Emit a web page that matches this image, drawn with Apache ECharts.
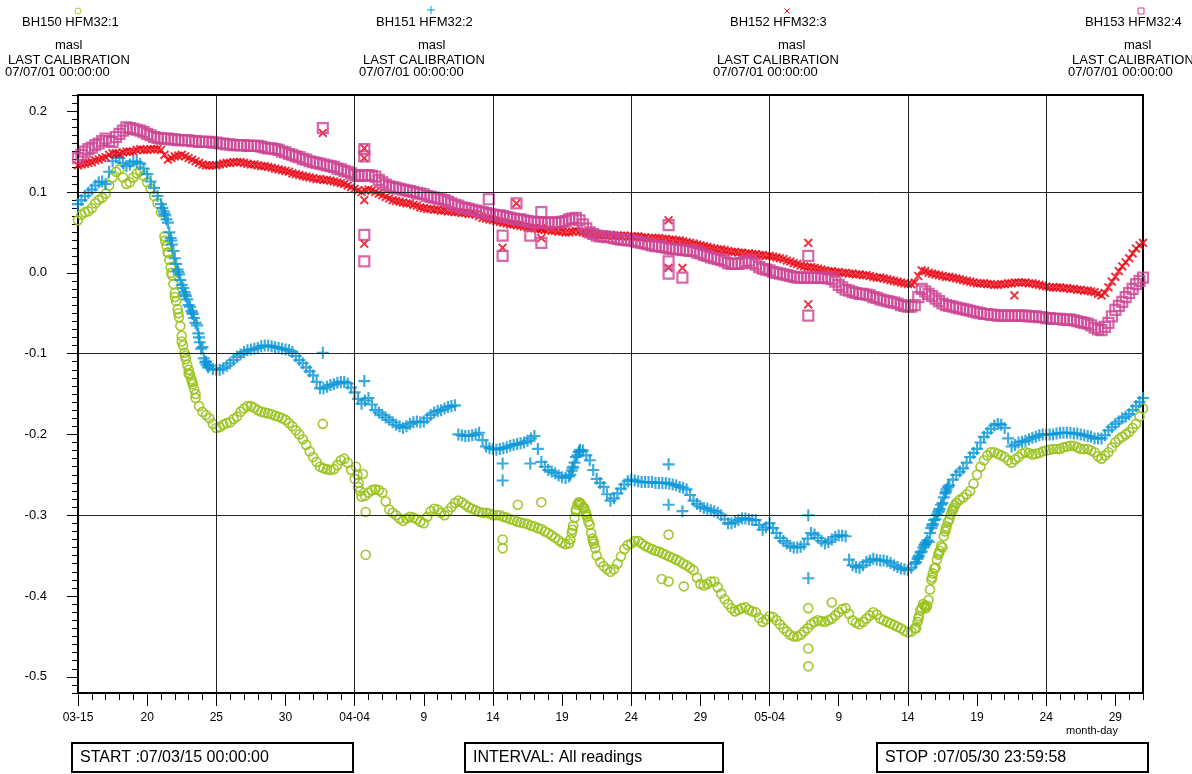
<!DOCTYPE html>
<html>
<head>
<meta charset="utf-8">
<title>HFM32 masl</title>
<script src="https://cdn.jsdelivr.net/npm/echarts@6/dist/echarts.min.js"></script>
<style>
html, body { margin: 0; padding: 0; background: #fff; }
#chart { width: 1192px; height: 774px; }
</style>
</head>
<body>
<div id="chart"></div>
<script>
// readings every 12 h, day 0 = 07/03/15 00:00, last = day 77 (05-31)
var stepDays = 0.5;

var bh150 = [
  0.065, 0.075, 0.080, 0.090, 0.098, 0.118, 0.128, 0.110, 0.118, 0.126,
  0.112, 0.095, 0.075, 0.025, -0.030, -0.085, -0.125, -0.155, -0.172, -0.180,
  -0.192, -0.188, -0.185, -0.178, -0.168, -0.165, -0.170, -0.173, -0.175, -0.178,
  -0.182, -0.190, -0.200, -0.213, -0.228, -0.240, -0.243, -0.243, -0.232, -0.235,
  -0.255, -0.277, -0.272, -0.268, -0.272, -0.293, -0.300, -0.307, -0.302, -0.305,
  -0.310, -0.295, -0.293, -0.300, -0.290, -0.282, -0.287, -0.292, -0.296, -0.297,
  -0.300, -0.300, -0.303, -0.306, -0.309, -0.311, -0.314, -0.317, -0.322, -0.328,
  -0.334, -0.335, -0.295, -0.290, -0.312, -0.350, -0.363, -0.370, -0.360, -0.342,
  -0.335, -0.332, -0.338, -0.342, -0.345, -0.349, -0.353, -0.357, -0.362, -0.368,
  -0.385, -0.385, -0.382, -0.397, -0.410, -0.419, -0.415, -0.417, -0.420, -0.432,
  -0.425, -0.430, -0.440, -0.448, -0.450, -0.444, -0.435, -0.430, -0.432, -0.428,
  -0.420, -0.415, -0.430, -0.435, -0.428, -0.420, -0.428, -0.432, -0.436, -0.440,
  -0.445, -0.440, -0.415, -0.405, -0.365, -0.340, -0.305, -0.285, -0.278, -0.270,
  -0.250, -0.232, -0.222, -0.224, -0.228, -0.235, -0.228, -0.222, -0.225, -0.223,
  -0.220, -0.218, -0.218, -0.215, -0.214, -0.218, -0.218, -0.222, -0.230, -0.222,
  -0.210, -0.203, -0.197, -0.187, -0.168
];
var bh151 = [
  0.085, 0.095, 0.103, 0.112, 0.110, 0.138, 0.142, 0.132, 0.138, 0.135,
  0.122, 0.105, 0.085, 0.062, 0.018, -0.015, -0.040, -0.062, -0.092, -0.115,
  -0.120, -0.118, -0.112, -0.104, -0.098, -0.095, -0.093, -0.090, -0.091, -0.093,
  -0.095, -0.098, -0.108, -0.117, -0.127, -0.143, -0.141, -0.138, -0.135, -0.137,
  -0.148, -0.162, -0.155, -0.170, -0.176, -0.182, -0.188, -0.192, -0.187, -0.184,
  -0.184, -0.176, -0.171, -0.168, -0.165, -0.200, -0.202, -0.201, -0.198, -0.215,
  -0.218, -0.218, -0.216, -0.213, -0.211, -0.208, -0.202, -0.234, -0.244, -0.248,
  -0.253, -0.252, -0.228, -0.220, -0.232, -0.255, -0.265, -0.282, -0.273, -0.262,
  -0.256, -0.258, -0.259, -0.259, -0.260, -0.260, -0.262, -0.265, -0.268, -0.282,
  -0.289, -0.292, -0.295, -0.300, -0.310, -0.308, -0.304, -0.305, -0.306, -0.318,
  -0.310, -0.322, -0.332, -0.338, -0.340, -0.336, -0.322, -0.328, -0.335, -0.330,
  -0.325, -0.326, -0.362, -0.365, -0.358, -0.354, -0.356, -0.357, -0.362, -0.366,
  -0.368, -0.360, -0.345, -0.333, -0.305, -0.285, -0.263, -0.250, -0.242, -0.228,
  -0.218, -0.203, -0.193, -0.187, -0.192, -0.215, -0.210, -0.208, -0.204, -0.201,
  -0.200, -0.200, -0.198, -0.198, -0.199, -0.200, -0.202, -0.205, -0.205, -0.195,
  -0.187, -0.180, -0.175, -0.165, -0.155
];
var bh152 = [
  0.133, 0.135, 0.137, 0.140, 0.143, 0.148, 0.147, 0.150, 0.150, 0.153,
  0.152, 0.153, 0.152, 0.140, 0.144, 0.146, 0.142, 0.138, 0.134, 0.133,
  0.133, 0.135, 0.136, 0.137, 0.136, 0.134, 0.133, 0.132, 0.130, 0.128,
  0.126, 0.123, 0.121, 0.119, 0.117, 0.116, 0.115, 0.113, 0.111, 0.108,
  0.104, 0.100, 0.103, 0.100, 0.096, 0.092, 0.089, 0.087, 0.086, 0.083,
  0.080, 0.079, 0.078, 0.077, 0.076, 0.075, 0.074, 0.073, 0.070, 0.067,
  0.065, 0.063, 0.061, 0.060, 0.058, 0.056, 0.055, 0.054, 0.053, 0.052,
  0.051, 0.050, 0.052, 0.050, 0.049, 0.048, 0.047, 0.047, 0.046, 0.046,
  0.045, 0.045, 0.044, 0.043, 0.043, 0.042, 0.041, 0.040, 0.038, 0.036,
  0.034, 0.032, 0.030, 0.029, 0.027, 0.026, 0.025, 0.024, 0.023, 0.022,
  0.021, 0.019, 0.017, 0.014, 0.011, 0.008, 0.007, 0.005, 0.003, 0.002,
  0.001, 0.000, -0.001, -0.002, -0.003, -0.005, -0.006, -0.008, -0.010, -0.012,
  -0.014, -0.012, 0.003, 0.000, -0.002, -0.004, -0.005, -0.007, -0.009, -0.011,
  -0.013, -0.013, -0.014, -0.015, -0.014, -0.013, -0.012, -0.012, -0.013, -0.015,
  -0.017, -0.018, -0.018, -0.019, -0.020, -0.021, -0.022, -0.024, -0.028, -0.018,
  -0.005, 0.008, 0.018, 0.030, 0.037
];
var bh153 = [
  0.142, 0.150, 0.155, 0.160, 0.166, 0.162, 0.172, 0.180, 0.178, 0.176,
  0.172, 0.168, 0.166, 0.166, 0.165, 0.164, 0.164, 0.163, 0.162, 0.162,
  0.161, 0.160, 0.159, 0.158, 0.158, 0.157, 0.157, 0.155, 0.154, 0.152,
  0.149, 0.146, 0.143, 0.140, 0.137, 0.135, 0.133, 0.131, 0.128, 0.125,
  0.121, 0.120, 0.121, 0.119, 0.112, 0.107, 0.105, 0.103, 0.101, 0.099,
  0.097, 0.094, 0.092, 0.090, 0.086, 0.083, 0.080, 0.078, 0.076, 0.074,
  0.072, 0.071, 0.069, 0.067, 0.066, 0.064, 0.063, 0.062, 0.062, 0.062,
  0.063, 0.066, 0.068, 0.060, 0.050, 0.046, 0.045, 0.044, 0.042, 0.041,
  0.040, 0.038, 0.036, 0.034, 0.033, 0.031, 0.030, 0.029, 0.028, 0.027,
  0.024, 0.021, 0.018, 0.016, 0.012, 0.011, 0.012, 0.015, 0.010, 0.005,
  0.003, 0.000, -0.002, -0.004, -0.006, -0.006, -0.006, -0.006, -0.006, -0.008,
  -0.015, -0.021, -0.024, -0.026, -0.027, -0.030, -0.033, -0.035, -0.037, -0.040,
  -0.042, -0.040, -0.020, -0.026, -0.032, -0.038, -0.041, -0.043, -0.045, -0.047,
  -0.049, -0.051, -0.052, -0.053, -0.053, -0.053, -0.053, -0.053, -0.054, -0.055,
  -0.056, -0.057, -0.057, -0.058, -0.059, -0.061, -0.063, -0.068, -0.071, -0.062,
  -0.046, -0.036, -0.025, -0.014, -0.006
];

// readings 6 h after each of the above (day 0.25, 0.75, ... 76.75)
var bh150Q = [
  0.072, 0.076, 0.086, 0.093, 0.108, 0.125, 0.118, 0.112, 0.123, 0.120,
  0.104, 0.086, 0.045, 0.000, -0.050, -0.103, -0.135, -0.165, -0.176, -0.187,
  -0.191, -0.186, -0.181, -0.172, -0.165, -0.167, -0.172, -0.174, -0.177, -0.180,
  -0.186, -0.195, -0.206, -0.221, -0.234, -0.242, -0.244, -0.238, -0.230, -0.244,
  -0.265, -0.276, -0.269, -0.269, -0.283, -0.297, -0.304, -0.304, -0.303, -0.308,
  -0.302, -0.292, -0.297, -0.295, -0.285, -0.284, -0.290, -0.294, -0.297, -0.298,
  -0.300, -0.302, -0.305, -0.308, -0.310, -0.313, -0.316, -0.320, -0.325, -0.331,
  -0.336, -0.318, -0.285, -0.299, -0.332, -0.358, -0.367, -0.367, -0.351, -0.337,
  -0.332, -0.335, -0.340, -0.344, -0.347, -0.351, -0.355, -0.360, -0.365, -0.377,
  -0.387, -0.382, -0.389, -0.404, -0.415, -0.417, -0.414, -0.419, -0.427, -0.429,
  -0.426, -0.435, -0.444, -0.450, -0.448, -0.440, -0.432, -0.431, -0.430, -0.424,
  -0.416, -0.422, -0.433, -0.432, -0.424, -0.423, -0.430, -0.434, -0.438, -0.443,
  -0.444, -0.428, -0.413, -0.377, -0.347, -0.317, -0.293, -0.281, -0.274, -0.261,
  -0.240, -0.226, -0.222, -0.226, -0.232, -0.231, -0.224, -0.223, -0.224, -0.221,
  -0.219, -0.218, -0.216, -0.214, -0.216, -0.218, -0.220, -0.227, -0.226, -0.216,
  -0.206, -0.200, -0.192, -0.178
];
var bh151Q = [
  0.090, 0.099, 0.108, 0.113, 0.125, 0.143, 0.136, 0.134, 0.137, 0.129,
  0.113, 0.095, 0.073, 0.040, 0.001, -0.027, -0.049, -0.080, -0.110, -0.119,
  -0.120, -0.115, -0.108, -0.101, -0.096, -0.094, -0.091, -0.090, -0.092, -0.094,
  -0.096, -0.103, -0.112, -0.122, -0.135, -0.143, -0.139, -0.136, -0.135, -0.142,
  -0.156, -0.158, -0.163, -0.173, -0.179, -0.185, -0.190, -0.190, -0.185, -0.185,
  -0.180, -0.173, -0.170, -0.166, -0.164, -0.201, -0.202, -0.200, -0.207, -0.217,
  -0.219, -0.217, -0.214, -0.212, -0.210, -0.205, -0.218, -0.240, -0.246, -0.251,
  -0.254, -0.242, -0.221, -0.226, -0.244, -0.260, -0.274, -0.279, -0.267, -0.258,
  -0.257, -0.259, -0.259, -0.260, -0.260, -0.261, -0.263, -0.266, -0.275, -0.286,
  -0.291, -0.294, -0.297, -0.305, -0.310, -0.306, -0.304, -0.306, -0.312, -0.315,
  -0.316, -0.328, -0.335, -0.340, -0.339, -0.329, -0.324, -0.332, -0.333, -0.327,
  -0.325, -0.355, -0.364, -0.362, -0.356, -0.355, -0.356, -0.359, -0.364, -0.367,
  -0.365, -0.352, -0.336, -0.313, -0.294, -0.271, -0.256, -0.246, -0.235, -0.223,
  -0.210, -0.198, -0.189, -0.188, -0.205, -0.213, -0.209, -0.206, -0.203, -0.200,
  -0.200, -0.199, -0.198, -0.198, -0.199, -0.201, -0.203, -0.205, -0.201, -0.191,
  -0.184, -0.178, -0.170, -0.160
];
var bh152Q = [
  0.134, 0.136, 0.139, 0.142, 0.146, 0.148, 0.149, 0.150, 0.152, 0.152,
  0.153, 0.153, 0.146, 0.142, 0.145, 0.144, 0.140, 0.136, 0.133, 0.133,
  0.134, 0.136, 0.137, 0.137, 0.135, 0.134, 0.132, 0.131, 0.129, 0.127,
  0.125, 0.122, 0.120, 0.118, 0.116, 0.115, 0.114, 0.112, 0.110, 0.106,
  0.102, 0.102, 0.102, 0.098, 0.094, 0.090, 0.088, 0.086, 0.084, 0.081,
  0.079, 0.078, 0.077, 0.076, 0.075, 0.074, 0.073, 0.072, 0.068, 0.066,
  0.064, 0.062, 0.060, 0.059, 0.057, 0.055, 0.054, 0.053, 0.052, 0.051,
  0.050, 0.051, 0.051, 0.049, 0.048, 0.047, 0.047, 0.046, 0.046, 0.045,
  0.045, 0.044, 0.043, 0.043, 0.042, 0.041, 0.040, 0.039, 0.037, 0.035,
  0.033, 0.031, 0.029, 0.028, 0.026, 0.025, 0.024, 0.023, 0.022, 0.021,
  0.020, 0.018, 0.015, 0.012, 0.009, 0.007, 0.006, 0.004, 0.002, 0.001,
  0.000, -0.001, -0.002, -0.003, -0.004, -0.006, -0.007, -0.009, -0.011, -0.013,
  -0.014, -0.004, 0.002, -0.001, -0.003, -0.005, -0.006, -0.008, -0.010, -0.012,
  -0.013, -0.014, -0.015, -0.014, -0.013, -0.012, -0.012, -0.013, -0.014, -0.016,
  -0.018, -0.018, -0.019, -0.020, -0.021, -0.022, -0.023, -0.026, -0.025, -0.011,
  0.002, 0.013, 0.024, 0.034
];
var bh153Q = [
  0.146, 0.153, 0.158, 0.163, 0.163, 0.168, 0.176, 0.179, 0.177, 0.174,
  0.170, 0.167, 0.166, 0.165, 0.164, 0.164, 0.163, 0.162, 0.162, 0.161,
  0.160, 0.159, 0.158, 0.158, 0.157, 0.157, 0.156, 0.154, 0.153, 0.150,
  0.147, 0.144, 0.141, 0.138, 0.136, 0.134, 0.132, 0.129, 0.126, 0.123,
  0.120, 0.121, 0.120, 0.115, 0.109, 0.106, 0.104, 0.102, 0.100, 0.098,
  0.095, 0.093, 0.091, 0.088, 0.084, 0.081, 0.079, 0.077, 0.075, 0.073,
  0.071, 0.070, 0.068, 0.066, 0.065, 0.063, 0.062, 0.062, 0.062, 0.062,
  0.064, 0.067, 0.065, 0.055, 0.048, 0.045, 0.044, 0.043, 0.041, 0.040,
  0.039, 0.037, 0.035, 0.033, 0.032, 0.030, 0.029, 0.028, 0.027, 0.025,
  0.022, 0.019, 0.017, 0.014, 0.011, 0.011, 0.014, 0.012, 0.007, 0.004,
  0.001, -0.001, -0.003, -0.005, -0.006, -0.006, -0.006, -0.006, -0.007, -0.011,
  -0.018, -0.022, -0.025, -0.026, -0.028, -0.031, -0.034, -0.036, -0.038, -0.041,
  -0.042, -0.030, -0.023, -0.029, -0.035, -0.040, -0.042, -0.044, -0.046, -0.048,
  -0.050, -0.051, -0.052, -0.053, -0.053, -0.053, -0.053, -0.054, -0.054, -0.055,
  -0.056, -0.057, -0.058, -0.058, -0.060, -0.062, -0.065, -0.070, -0.067, -0.054,
  -0.041, -0.030, -0.020, -0.010
];

// closer readings where the level moves fast [day, value]
var bh150Fast = [
  [6.3,0.040],[6.4,0.033],[6.5,0.025],[6.6,0.016],[6.7,0.007],[6.8,-0.003],[6.9,-0.014],
  [7.0,-0.025],[7.1,-0.035],[7.2,-0.045],[7.3,-0.055],[7.4,-0.066],[7.5,-0.078],[7.6,-0.090],
  [7.7,-0.099],[7.8,-0.107],[7.9,-0.114],[8.0,-0.120],[8.1,-0.126],[8.2,-0.132],[8.3,-0.138],
  [8.4,-0.144],[8.5,-0.150],
  [20.1,-0.240],[20.2,-0.250],[20.3,-0.260],[20.4,-0.270],
  [35.6,-0.330],[35.7,-0.322],[35.8,-0.313],[35.9,-0.303],[36.0,-0.293],[36.1,-0.287],
  [36.2,-0.284],[36.3,-0.285],[36.4,-0.287],[36.6,-0.291],[36.7,-0.296],[36.8,-0.302],
  [36.9,-0.308],[37.1,-0.322],[37.2,-0.329],[37.3,-0.335],[37.4,-0.341],
  [60.6,-0.440],[60.7,-0.432],[60.8,-0.425],[60.9,-0.418],[61.1,-0.410],[61.2,-0.412],
  [61.3,-0.415],[61.4,-0.412],[61.6,-0.392],[61.7,-0.380],[61.8,-0.372],[61.9,-0.366],
  [62.1,-0.355],[62.2,-0.349],[62.3,-0.344],[62.4,-0.338],[62.6,-0.326],[62.7,-0.320],
  [62.8,-0.314],[62.9,-0.308],[63.1,-0.299],[63.2,-0.295],[63.3,-0.291],[63.4,-0.288]
];
var bh151Fast = [
  [6.1,0.080],[6.2,0.076],[6.3,0.071],[6.4,0.066],[6.6,0.050],[6.7,0.043],[6.8,0.035],
  [6.9,0.027],[7.1,0.011],[7.2,0.004],[7.3,-0.002],[7.4,-0.009],[7.6,-0.019],[7.7,-0.024],
  [7.8,-0.029],[7.9,-0.033],[8.1,-0.042],[8.2,-0.047],[8.3,-0.051],[8.4,-0.056],[8.6,-0.065],
  [8.7,-0.075],[8.8,-0.086],[8.9,-0.094],[9.1,-0.106],[9.2,-0.111],[9.3,-0.114],[9.4,-0.117],
  [35.6,-0.250],[35.7,-0.245],[35.8,-0.240],[35.9,-0.235],[36.1,-0.226],[36.2,-0.222],[36.3,-0.219],
  [60.6,-0.358],[60.7,-0.354],[60.8,-0.350],[60.9,-0.346],[61.1,-0.340],[61.2,-0.337],
  [61.3,-0.334],[61.4,-0.331],[61.6,-0.322],[61.7,-0.316],[61.8,-0.311],[61.9,-0.306],
  [62.1,-0.299],[62.2,-0.296],[62.3,-0.292],[62.4,-0.287],[62.6,-0.278],[62.7,-0.273],
  [62.8,-0.268],[62.9,-0.265]
];

// stray readings [day, value]
var bh150Odd = [[17.7,-0.187],[20.6,-0.249],[20.8,-0.349],[20.8,-0.296],[30.7,-0.330],[30.7,-0.341],
  [31.8,-0.287],[33.5,-0.284],[42.2,-0.379],[42.7,-0.324],[42.7,-0.382],[43.8,-0.388],
  [52.8,-0.415],[52.8,-0.465],[52.8,-0.487],[54.5,-0.408]];
var bh151Odd = [[17.7,-0.099],[20.7,-0.134],[30.7,-0.236],[30.7,-0.257],[32.7,-0.236],[42.7,-0.237],
  [42.7,-0.287],[43.7,-0.295],[52.8,-0.300],[52.8,-0.378]];
var bh152Odd = [[17.7,0.173],[20.7,0.154],[20.7,0.142],[20.7,0.090],[20.7,0.036],[30.7,0.031],
  [31.7,0.086],[33.5,0.055],[33.5,0.043],[42.7,0.065],[42.7,0.006],[43.7,0.006],
  [52.8,0.037],[52.8,-0.039],[67.7,-0.028]];
var bh153Odd = [[17.7,0.179],[20.7,0.153],[20.7,0.144],[20.7,0.047],[20.7,0.014],[29.7,0.091],
  [30.7,0.046],[30.7,0.021],[31.7,0.086],[32.7,0.046],[33.5,0.075],[33.5,0.037],
  [42.7,0.059],[42.7,0.014],[42.7,-0.001],[43.7,-0.006],[52.8,0.021],[52.8,-0.053]];

var xTickDays = [0, 5, 10, 15, 20, 25, 30, 35, 40, 45, 50, 55, 60, 65, 70, 75];
var xTickLabels = ['03-15', '20', '25', '30', '04-04', '9', '14', '19', '24', '29',
                   '05-04', '9', '14', '19', '24', '29'];
var xGridDays = [10, 20, 30, 40, 50, 60, 70];
var yTickValues = [-0.5, -0.4, -0.3, -0.2, -0.1, 0.0, 0.1, 0.2];
var yGridValues = [0.1, -0.1, -0.3];

function pts(vals, quarter, extra, odd) {
  var out = [];
  vals.forEach(function (v, i) {
    out.push([i * stepDays, v]);
    if (i < quarter.length) out.push([i * stepDays + stepDays / 2, quarter[i]]);
  });
  return out.concat(extra, odd);
}

var plusPath = 'path://M4.1,0h1.8v4.1h4.1v1.8h-4.1v4.1h-1.8v-4.1h-4.1v-1.8h4.1z';
var FONT = '"Liberation Sans", Arial, Helvetica, sans-serif';

var chart = echarts.init(document.getElementById('chart'));

function hdr(x, y, text, size) {
  return { type: 'text', x: x, y: y, silent: true,
    style: { text: text, fill: '#000', font: (size || 13) + 'px ' + FONT,
             verticalAlign: 'middle', textVerticalAlign: 'middle' } };
}
function box(x, w, text) {
  return [
    { type: 'rect', shape: { x: x, y: 743, width: w, height: 29 },
      style: { fill: '#fff', stroke: '#000', lineWidth: 2 }, silent: true },
    hdr(x + 8, 758, text, 16)
  ];
}

var graphics = [
  { type: 'circle', shape: { cx: 78, cy: 11, r: 3 }, style: { fill: 'none', stroke: '#a6c93c', lineWidth: 1 } },
  { type: 'line', shape: { x1: 427, y1: 10, x2: 435, y2: 10 }, style: { stroke: '#0a96d6', lineWidth: 1 } },
  { type: 'line', shape: { x1: 431, y1: 6, x2: 431, y2: 14 }, style: { stroke: '#0a96d6', lineWidth: 1 } },
  { type: 'line', shape: { x1: 784.5, y1: 8.5, x2: 789.5, y2: 13.5 }, style: { stroke: '#e8000f', lineWidth: 1 } },
  { type: 'line', shape: { x1: 789.5, y1: 8.5, x2: 784.5, y2: 13.5 }, style: { stroke: '#e8000f', lineWidth: 1 } },
  { type: 'rect', shape: { x: 1138, y: 8, width: 6, height: 6 }, style: { fill: 'none', stroke: '#cc4494', lineWidth: 1 } },

  hdr(22, 22, 'BH150 HFM32:1'), hdr(55, 45, 'masl'), hdr(8, 60, 'LAST CALIBRATION'), hdr(5, 72, '07/07/01 00:00:00'),
  hdr(376, 22, 'BH151 HFM32:2'), hdr(418, 45, 'masl'), hdr(363, 60, 'LAST CALIBRATION'), hdr(359, 72, '07/07/01 00:00:00'),
  hdr(730, 22, 'BH152 HFM32:3'), hdr(778, 45, 'masl'), hdr(717, 60, 'LAST CALIBRATION'), hdr(713, 72, '07/07/01 00:00:00'),
  hdr(1085, 22, 'BH153 HFM32:4'), hdr(1124, 45, 'masl'), hdr(1072, 60, 'LAST CALIBRATION'), hdr(1068, 72, '07/07/01 00:00:00'),
  hdr(1066, 731, 'month-day', 11)
].concat(box(72, 281, 'START :07/03/15 00:00:00'))
 .concat(box(465, 258, 'INTERVAL: All readings'))
 .concat(box(877, 271, 'STOP :07/05/30 23:59:58'));

var option = {
  animation: false,
  backgroundColor: '#fff',
  textStyle: { fontFamily: FONT },
  grid: { left: 78, right: 49, top: 95, bottom: 81, show: true,
          borderColor: '#000', borderWidth: 2, backgroundColor: 'transparent' },
  xAxis: [{
    type: 'value', min: 0, max: 77, interval: 1,
    axisLine: { show: true, onZero: false, lineStyle: { color: '#000', width: 2 } },
    axisTick: { show: true, inside: false, length: 7, lineStyle: { color: '#000', width: 1 } },
    axisLabel: {
      customValues: xTickDays, margin: 19, color: '#000', fontSize: 12, fontFamily: FONT,
      formatter: function (v) { return xTickLabels[xTickDays.indexOf(Math.round(v))] || ''; }
    },
    splitLine: { show: false }
  }, {
    type: 'value', min: 0, max: 77, position: 'bottom', offset: 0,
    axisLine: { show: false, onZero: false },
    axisTick: { show: true, inside: false, length: 13, customValues: xTickDays, lineStyle: { color: '#000', width: 1 } },
    axisLabel: { show: false },
    splitLine: { show: false }
  }],
  yAxis: [{
    type: 'value', min: -0.52, max: 0.22, interval: 0.01,
    axisLine: { show: true, onZero: false, lineStyle: { color: '#000', width: 2 } },
    axisTick: { show: true, inside: false, length: 6, lineStyle: { color: '#000', width: 1 } },
    axisLabel: {
      customValues: yTickValues, margin: 31, color: '#000', fontSize: 13, fontFamily: FONT,
      formatter: function (v) { return v.toFixed(1); }
    },
    splitLine: { show: false }
  }, {
    type: 'value', min: -0.52, max: 0.22, position: 'left', offset: 0,
    axisLine: { show: false, onZero: false },
    axisTick: { show: true, inside: false, length: 11, customValues: yTickValues, lineStyle: { color: '#000', width: 1 } },
    axisLabel: { show: false },
    splitLine: { show: false }
  }],
  graphic: graphics,
  series: [{
    name: 'BH150 HFM32:1', type: 'scatter', data: pts(bh150, bh150Q, bh150Fast, bh150Odd),
    symbol: 'circle', symbolSize: 9,
    itemStyle: { color: 'rgba(0,0,0,0)', borderColor: '#99c21c', borderWidth: 1.6, opacity: 0.9 },
    markLine: {
      silent: true, symbol: 'none', label: { show: false },
      lineStyle: { color: '#222', type: 'solid', width: 1 },
      data: xGridDays.map(function (d) { return { xAxis: d }; })
        .concat(yGridValues.map(function (v) { return { yAxis: v }; }))
    }
  }, {
    name: 'BH151 HFM32:2', type: 'scatter', data: pts(bh151, bh151Q, bh151Fast, bh151Odd),
    symbol: plusPath, symbolSize: 12,
    itemStyle: { color: '#0a96d6' }
  }, {
    name: 'BH152 HFM32:3', type: 'scatter', data: pts(bh152, bh152Q, [], bh152Odd),
    symbol: plusPath, symbolSize: 11, symbolRotate: 45,
    itemStyle: { color: '#e8000f' }
  }, {
    name: 'BH153 HFM32:4', type: 'scatter', data: pts(bh153, bh153Q, [], bh153Odd),
    symbol: 'rect', symbolSize: 10,
    itemStyle: { color: 'rgba(0,0,0,0)', borderColor: '#cc4494', borderWidth: 2.2 }
  }]
};

chart.setOption(option);
window.addEventListener('resize', function () { chart.resize(); });
</script>
</body>
</html>
